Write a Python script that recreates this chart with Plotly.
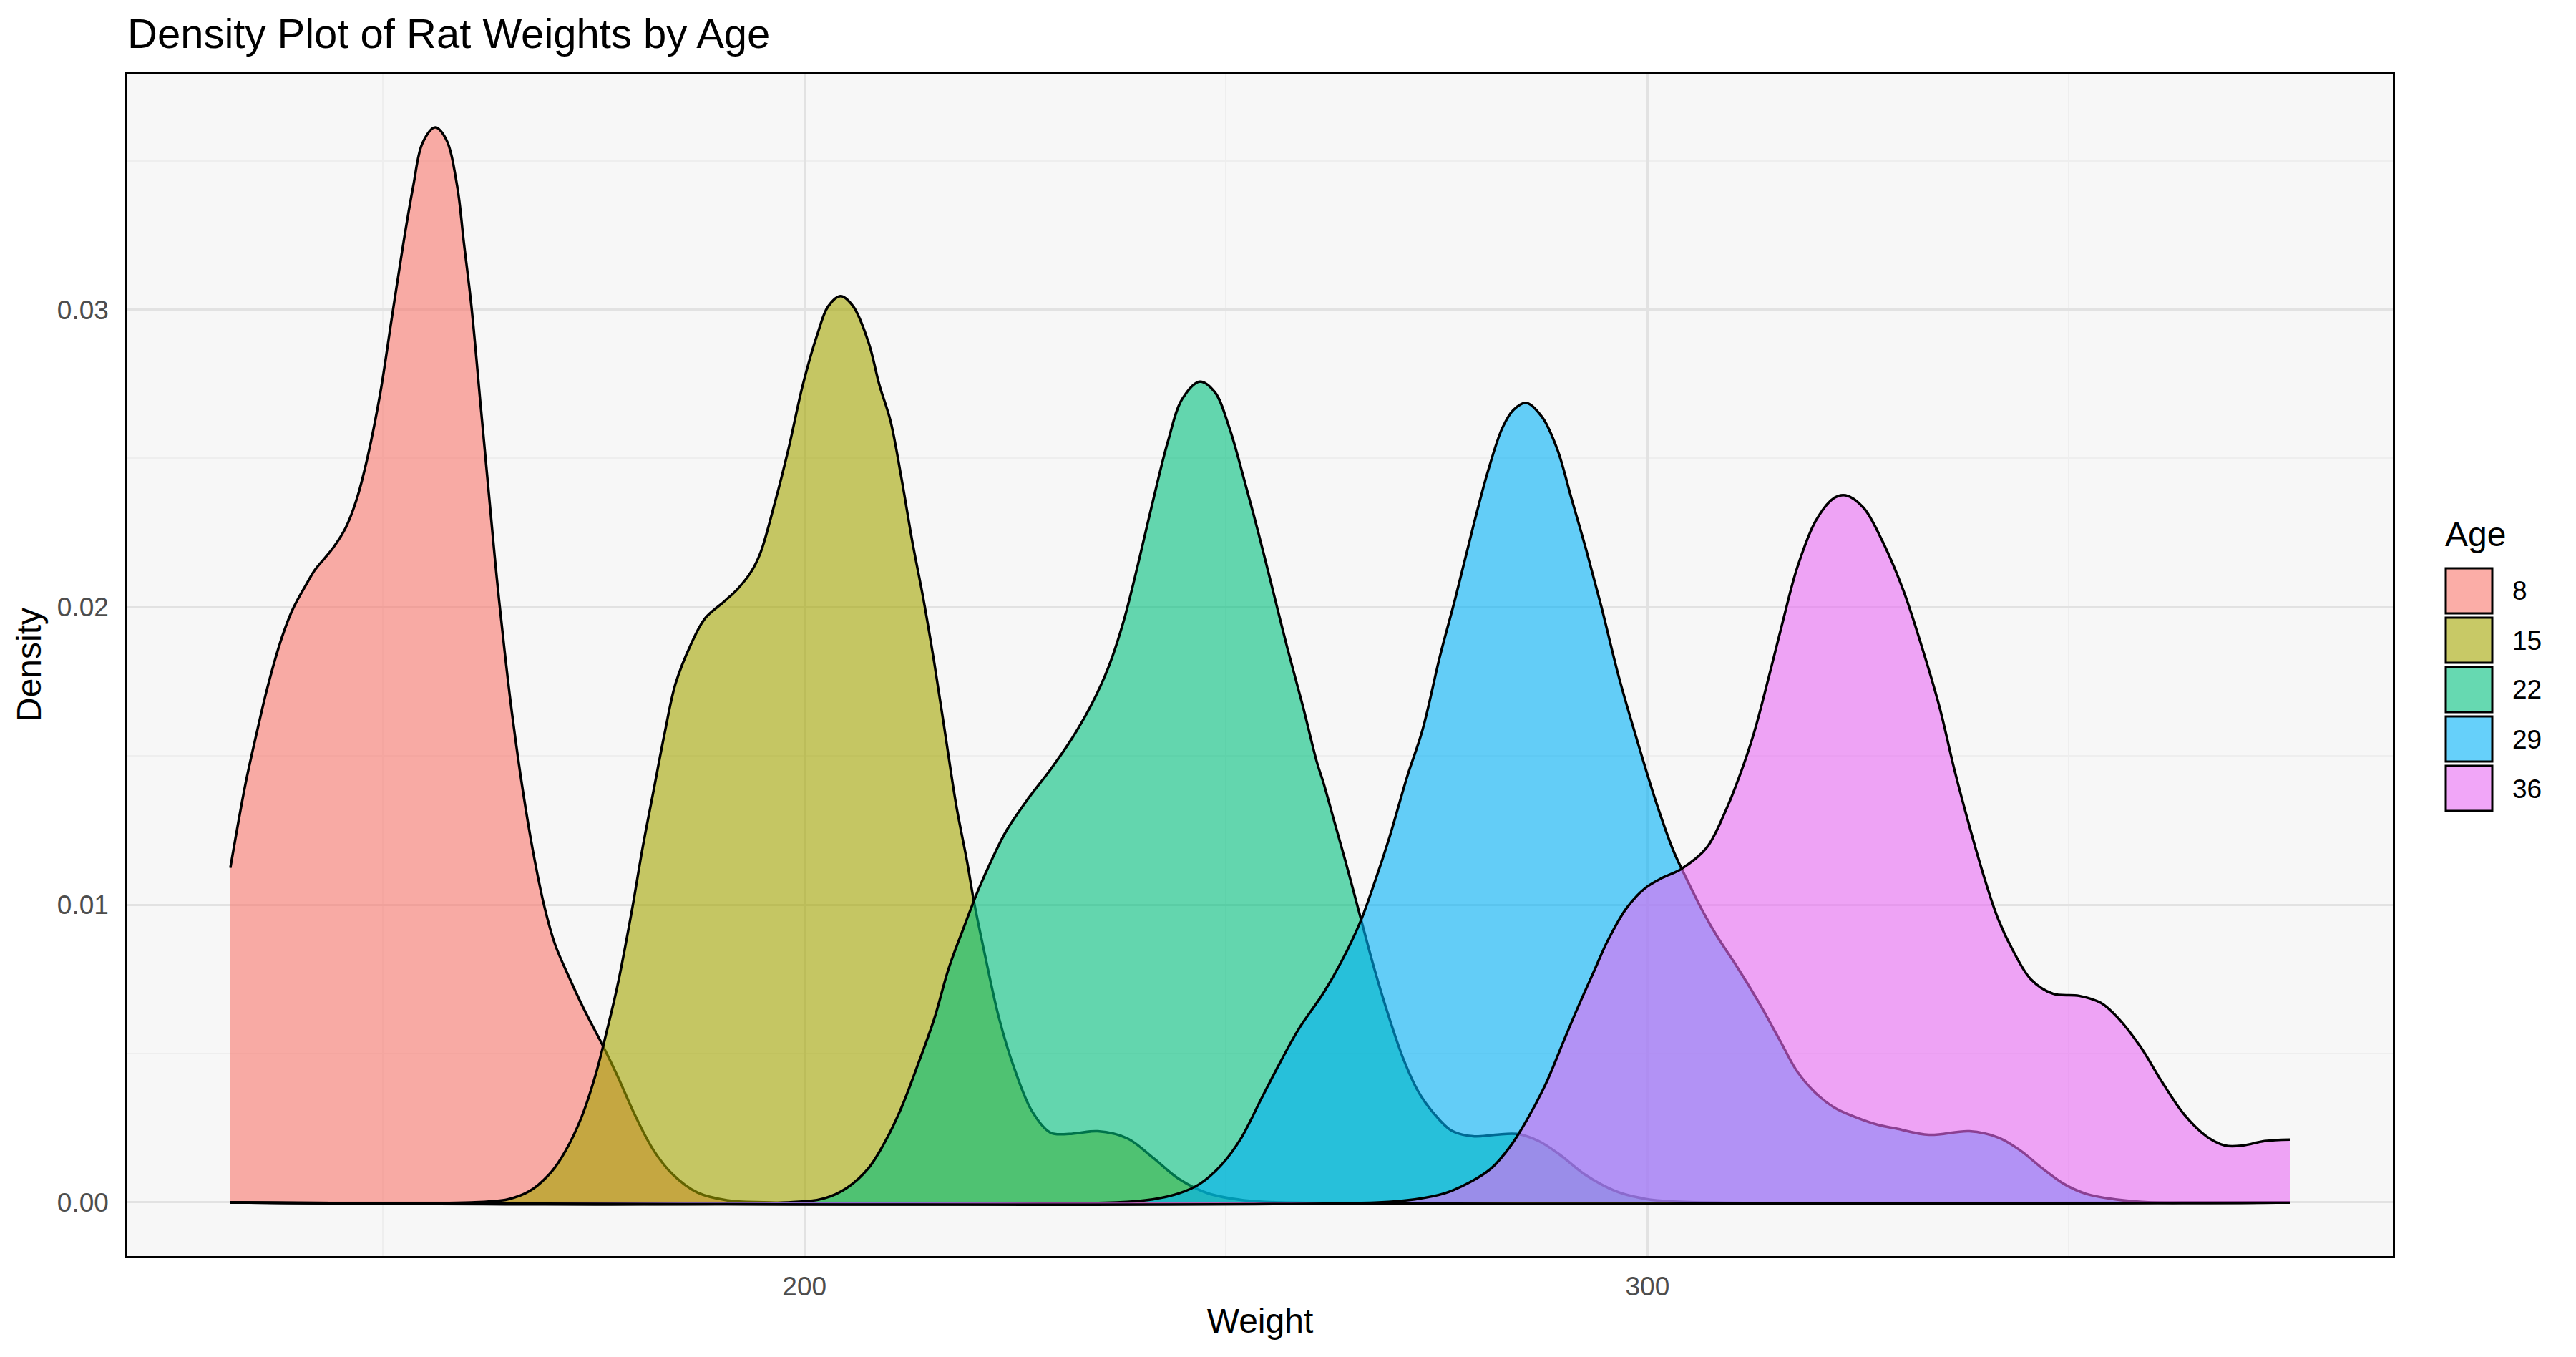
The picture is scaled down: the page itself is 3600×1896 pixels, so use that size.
import plotly.graph_objects as go

# density curves (weight, density)
ages = ["8", "15", "22", "29", "36"]
colors = ["#F8766D", "#A3A500", "#00BF7D", "#00B0F6", "#E76BF3"]

w_8 = [131.9, 133.7, 135.0, 136.3, 138.0, 139.3, 141.0, 141.9, 144.0, 145.6, 146.9, 148.2, 149.7,
       151.0, 152.3, 153.6, 154.7, 156.2, 157.5, 158.8, 159.6, 160.5, 161.6, 162.7, 163.5, 164.4,
       165.3, 166.6, 167.8, 169.1, 170.4, 172.2, 173.9, 176.1, 177.8, 180.0, 182.1, 184.3, 187.3,
       190.8, 196.0, 376.2]
d_8 = [0.01124, 0.01407, 0.01574, 0.0173, 0.01897, 0.01993, 0.02081, 0.02124, 0.02196, 0.02268,
       0.02364, 0.02507, 0.02722, 0.02962, 0.03201, 0.03416, 0.0356, 0.03612, 0.03572, 0.03416,
       0.03225, 0.0301, 0.02675, 0.0234, 0.021, 0.01861, 0.01646, 0.01383, 0.0118, 0.01, 0.00868,
       0.00749, 0.00646, 0.00526, 0.00426, 0.00287, 0.00175, 0.00096, 0.00033, 0.00007, 0.0, 0.0]

w_15 = [131.9, 160.5, 164.8, 167.4, 170.0, 171.7, 173.5, 175.2, 176.5, 177.8, 179.5, 180.8, 182.1,
        183.4, 184.7, 186.5, 188.2, 190.4, 192.1, 193.7, 194.8, 196.5, 198.1, 199.8, 201.5, 202.8,
        204.3, 205.8, 207.6, 208.9, 210.2, 211.5, 212.8, 214.1, 215.4, 216.7, 218.0, 219.3, 220.1,
        221.4, 223.1, 224.9, 227.0, 229.2, 231.4, 234.8, 238.3, 241.3, 244.4, 247.8, 252.1, 256.5,
        376.2]
d_15 = [0.0, 0.0, 0.0001, 0.00038, 0.00103, 0.00175, 0.00282, 0.00426, 0.00569, 0.00725, 0.00976,
        0.01191, 0.01383, 0.01574, 0.01742, 0.01873, 0.01962, 0.02017, 0.02062, 0.0212, 0.02184,
        0.02352, 0.02531, 0.02746, 0.02914, 0.0301, 0.03045, 0.0301, 0.0289, 0.02746, 0.02627,
        0.02435, 0.0222, 0.02029, 0.01813, 0.01574, 0.01335, 0.01144, 0.01012, 0.00833, 0.00617,
        0.0045, 0.00306, 0.00234, 0.0023, 0.00239, 0.00215, 0.00151, 0.00079, 0.00031, 0.00007,
        0.0, 0.0]

w_22 = [131.9, 198.1, 202.4, 205.0, 207.6, 209.7, 211.5, 213.6, 215.4, 217.1, 218.8, 220.6, 222.3,
        224.0, 226.6, 229.2, 231.8, 234.0, 236.1, 237.9, 239.6, 241.3, 243.1, 244.8, 246.9, 248.7,
        250.4, 252.1, 253.9, 255.6, 257.3, 259.1, 260.8, 261.6, 262.9, 264.2, 265.9, 267.6, 269.4,
        271.1, 272.8, 274.6, 276.7, 279.3, 281.9, 284.5, 287.1, 289.7, 292.7, 296.2, 299.7, 303.1,
        376.2]
d_22 = [0.0, 0.0, 0.00014, 0.00048, 0.00115, 0.00211, 0.00318, 0.00474, 0.00617, 0.00785, 0.00916,
        0.01048, 0.01156, 0.01251, 0.01359, 0.01455, 0.01562, 0.0167, 0.01801, 0.01957, 0.02148,
        0.02352, 0.02555, 0.02699, 0.02758, 0.02722, 0.02603, 0.02435, 0.02244, 0.02053, 0.01861,
        0.0167, 0.01478, 0.01407, 0.01275, 0.01144, 0.00964, 0.00785, 0.00617, 0.00478, 0.00373,
        0.00301, 0.00242, 0.00222, 0.00227, 0.0023, 0.00206, 0.00158, 0.00091, 0.00038, 0.00012,
        0.00003, 0.0]

w_29 = [131.9, 237.0, 241.3, 244.4, 246.9, 249.5, 251.7, 254.3, 256.5, 258.6, 261.6, 263.7, 265.9,
        267.6, 269.4, 271.5, 273.3, 275.4, 277.2, 279.3, 281.1, 282.8, 284.1, 285.6, 287.5, 289.3,
        291.0, 292.7, 294.5, 296.6, 298.8, 301.0, 303.1, 304.9, 306.6, 308.3, 310.5, 313.1, 315.7,
        317.8, 320.0, 322.2, 324.8, 327.4, 329.5, 333.4, 338.2, 341.6, 344.2, 346.8, 349.4, 352.0,
        355.5, 359.8, 376.2]
d_29 = [0.0, 0.0, 0.0001, 0.0003, 0.00062, 0.00127, 0.00211, 0.00354, 0.00474, 0.00581, 0.00705,
        0.00809, 0.0094, 0.01072, 0.01227, 0.01431, 0.01586, 0.01837, 0.02029, 0.02268, 0.02459,
        0.02603, 0.02663, 0.02687, 0.02639, 0.02531, 0.02364, 0.02196, 0.02005, 0.01766, 0.0155,
        0.01347, 0.0118, 0.01072, 0.00976, 0.00892, 0.00797, 0.00677, 0.00545, 0.00438, 0.00366,
        0.00318, 0.00285, 0.0026, 0.00248, 0.00227, 0.00239, 0.00218, 0.00175, 0.00115, 0.00062,
        0.00029, 0.0001, 0.0, 0.0]

w_36 = [131.9, 268.1, 272.4, 275.9, 278.9, 281.5, 283.7, 285.8, 288.0, 290.1, 291.9, 293.6, 295.3,
        297.5, 299.7, 301.8, 304.0, 307.0, 309.2, 310.9, 312.6, 314.4, 316.1, 317.8, 320.0, 322.2,
        323.5, 325.6, 327.8, 330.4, 333.0, 334.7, 336.4, 338.2, 339.9, 341.6, 343.4, 345.5, 348.1,
        351.2, 353.8, 355.9, 358.5, 361.1, 363.7, 366.3, 368.5, 370.6, 373.2, 376.2]
d_36 = [0.0, 0.0, 0.0001, 0.0003, 0.00067, 0.00115, 0.00187, 0.00282, 0.00402, 0.00545, 0.00665,
        0.00773, 0.0088, 0.00988, 0.01055, 0.01091, 0.0112, 0.01191, 0.01311, 0.01431, 0.01574,
        0.01766, 0.01957, 0.02136, 0.02292, 0.02368, 0.02376, 0.02335, 0.02226, 0.02053, 0.01825,
        0.01658, 0.01455, 0.01263, 0.01096, 0.00952, 0.00844, 0.00749, 0.00701, 0.00694, 0.0067,
        0.00617, 0.00522, 0.00402, 0.00294, 0.00222, 0.00191, 0.00191, 0.00206, 0.00211]

x_ticks = [200, 300]
x_minor = [150, 250, 350]
y_ticks = [0.0, 0.01, 0.02, 0.03]
y_minor = [0.005, 0.015, 0.025, 0.035]

weights = [w_8, w_15, w_22, w_29, w_36]
dens = [d_8, d_15, d_22, d_29, d_36]

FONT = "Liberation Sans, Arial, sans-serif"
OFF = 8  # default body margin of the html page
W, H = 3600 - 2 * OFF, 1896 - 2 * OFF
ML, MR, MT, MB = 178 - OFF, 3600 - OFF - 3344, 103 - OFF, 1896 - OFF - 1755


def px_x(p):
    return (p - OFF - ML) / (W - ML - MR)


def px_y(p):
    return (H + OFF - MB - p) / (H - MT - MB)


def rgba(hexcol, a):
    h = hexcol.lstrip("#")
    return "rgba(%d,%d,%d,%s)" % (int(h[0:2], 16), int(h[2:4], 16), int(h[4:6], 16), a)


fig = go.Figure()
for age, col, xs, ys in zip(ages, colors, weights, dens):
    fig.add_trace(go.Scatter(
        x=xs, y=ys, name=age, mode="lines", fill="tozeroy",
        fillcolor=rgba(col, 0.6),
        line=dict(color="black", width=3.5, shape="spline", smoothing=1.0),
        showlegend=False, hoverinfo="skip",
    ))

# ggplot style 5% expansion
all_x = [v for xs in weights for v in xs]
all_y = [v for ys in dens for v in ys]
xspan = max(all_x) - min(all_x)
ymax = max(all_y)

# manual legend (square keys like ggplot)
shapes = []
annotations = [dict(text="Age", x=px_x(3415), y=px_y(746), xref="paper", yref="paper",
                    xanchor="left", yanchor="middle", showarrow=False,
                    font=dict(family=FONT, size=48, color="black"))]
for i, (age, col) in enumerate(zip(ages, colors)):
    top = 793 + 69 * i
    shapes.append(dict(type="rect", xref="paper", yref="paper",
                       x0=px_x(3418), x1=px_x(3483), y0=px_y(top + 64), y1=px_y(top + 1),
                       fillcolor=rgba(col, 0.6), line=dict(color="black", width=3)))
    annotations.append(dict(text=age, x=px_x(3509), y=px_y(top + 33), xref="paper", yref="paper",
                            xanchor="left", yanchor="middle", showarrow=False,
                            font=dict(family=FONT, size=37, color="black")))

fig.update_layout(
    width=W, height=H,
    margin=dict(l=ML, r=MR, t=MT, b=MB),
    paper_bgcolor="white", plot_bgcolor="#F7F7F7",
    font=dict(family=FONT, color="black"),
    title=dict(text="Density Plot of Rat Weights by Age", x=0, xref="paper", xanchor="left",
               y=1 - (47 - OFF) / H, yref="container", yanchor="middle",
               font=dict(family=FONT, size=58, color="black")),
    shapes=shapes, annotations=annotations,
    showlegend=False,
)
fig.update_xaxes(
    range=[min(all_x) - 0.05 * xspan, max(all_x) + 0.05 * xspan],
    tickvals=x_ticks, ticktext=[str(v) for v in x_ticks],
    tickfont=dict(family=FONT, size=37, color="#4D4D4D"),
    ticks="", ticklabelstandoff=8,
    showgrid=True, gridcolor="#E2E2E2", gridwidth=3.3,
    minor=dict(tickvals=x_minor, showgrid=True, gridcolor="#EEEEEE", gridwidth=1.8),
    zeroline=False,
    showline=True, linecolor="black", linewidth=2.5, mirror=True,
    title=dict(text="Weight", font=dict(family=FONT, size=48, color="black"), standoff=12),
)
fig.update_yaxes(
    range=[-0.05 * ymax, 1.05 * ymax],
    tickvals=y_ticks, ticktext=["%.2f" % v for v in y_ticks],
    tickfont=dict(family=FONT, size=37, color="#4D4D4D"),
    ticks="", ticklabelstandoff=16,
    showgrid=True, gridcolor="#E2E2E2", gridwidth=3.3,
    minor=dict(tickvals=y_minor, showgrid=True, gridcolor="#EEEEEE", gridwidth=1.8),
    zeroline=False,
    showline=True, linecolor="black", linewidth=2.5, mirror=True,
    title=dict(text="Density", font=dict(family=FONT, size=48, color="black"), standoff=8),
)

fig.write_html("out.html")
